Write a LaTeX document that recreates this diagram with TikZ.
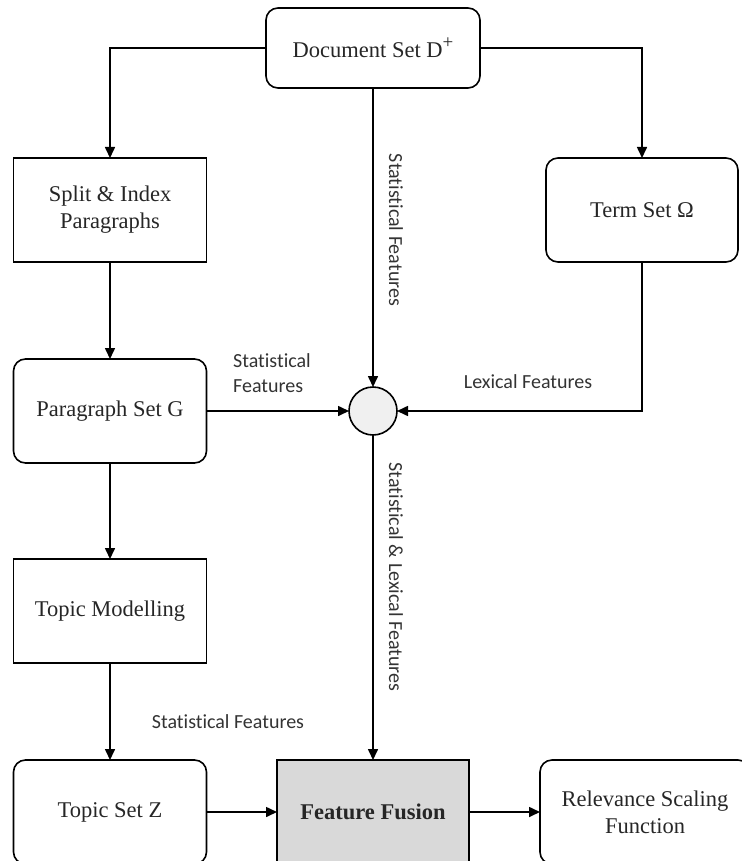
\documentclass[tikz,border=0pt]{standalone}
\usepackage{fontspec}
\setmainfont{Liberation Serif}
\newfontfamily\lblfont[Ligatures={NoCommon,NoDiscretionary}]{Carlito}
\usetikzlibrary{arrows.meta,positioning}
\definecolor{boxtext}{HTML}{262626}
\definecolor{lbltext}{HTML}{333333}
\definecolor{fusionfill}{HTML}{D9D9D9}
\definecolor{joinfill}{HTML}{F0F0F0}
\begin{document}
\begin{tikzpicture}[x=1pt,y=-1pt,
  every node/.style={inner sep=0pt, outer sep=0pt},
  procbox/.style={draw=black, line width=1.6pt, minimum width=193pt, minimum height=104pt,
    align=center, text=boxtext, font=\fontsize{22.5}{27}\selectfont},
  setbox/.style={procbox, rounded corners=12pt},
  joinnode/.style={draw=black, line width=1.6pt, circle, minimum size=48pt, fill=joinfill},
  flow/.style={draw=black, line width=1.6pt, -{Triangle[length=11pt,width=10pt]}},
  lbl/.style={text=lbltext, align=left, font=\lblfont\fontsize{20}{25}\selectfont}
]
\useasboundingbox (0,0) rectangle (741,861);

% boxes
\node[setbox, minimum width=214pt, minimum height=80pt] (doc) at (373,48) {Document Set D\raisebox{0.4em}{\fontsize{19}{19}\selectfont +}};
\node[procbox] (split) at (110,210) {Split \& Index\\Paragraphs};
\node[setbox, minimum width=192pt] (term) at (642,210) {Term Set Ω};
\node[setbox] (para) at (110,411) {Paragraph Set G};
\node[procbox] (topicm) at (110,611) {Topic Modelling};
\node[setbox] (topicz) at (110,812) {Topic Set Z};
\node[procbox, fill=fusionfill, minimum width=192pt, font=\fontsize{22.5}{27}\selectfont\bfseries] (fusion) at (373,812) {Feature Fusion};
\node[setbox, minimum width=210pt] (relev) at (645,812) {Relevance Scaling\\Function};
\node[joinnode] (join) at (373,411) {};

% connectors
\draw[flow] (doc.west) -| (split.north);
\draw[flow] (doc.east) -| (term.north);
\draw[flow] (doc.south) -- (join.north);
\draw[flow] (split.south) -- (para.north);
\draw[flow] (para.east) -- (join.west);
\draw[flow] (term.south) |- (join.east);
\draw[flow] (join.south) -- (fusion.north);
\draw[flow] (para.south) -- (topicm.north);
\draw[flow] (topicm.south) -- (topicz.north);
\draw[flow] (topicz.east) -- (fusion.west);
\draw[flow] (fusion.east) -- (relev.west);

% connector labels
\node[lbl, rotate=-90] (lstat) at (396,230) {Statistical Features};
\node[lbl] (lpara) at (272,373) {Statistical\\Features};
\node[lbl] (llex) at (528,382) {Lexical Features};
\node[lbl, rotate=-90] (lboth) at (396,577) {Statistical \& Lexical Features};
\node[lbl] (ltopic) at (228,722) {Statistical Features};
\end{tikzpicture}
\end{document}
